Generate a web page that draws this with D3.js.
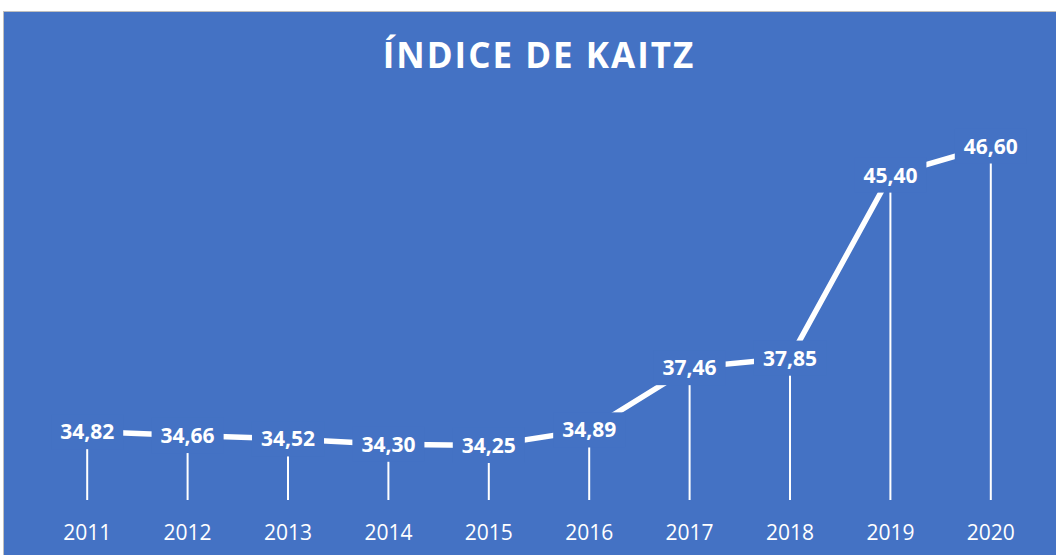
<!DOCTYPE html>
<html><head><meta charset="utf-8">
<script src="https://cdn.jsdelivr.net/npm/d3@7"></script>
<style>html,body{margin:0;padding:0;background:#fff;overflow:hidden}</style>
</head><body>
<svg id="c" width="1056" height="555"></svg>
<script>
const years = ["2011","2012","2013","2014","2015","2016","2017","2018","2019","2020"];
const values = [34.82,34.66,34.52,34.30,34.25,34.89,37.46,37.85,45.40,46.60];
const labels = ["34,82","34,66","34,52","34,30","34,25","34,89","37,46","37,85","45,40","46,60"];
const title = "ÍNDICE DE KAITZ";
const yDomain = [32, 48];

const svg = d3.select("#c");
const bg = "#4472C4";
svg.append("rect").attr("x",3.5).attr("y",11.5).attr("width",1060).attr("height",560)
  .attr("fill",bg).attr("stroke","#BFBFBF").attr("stroke-width",1);

svg.append("text").attr("x",539).attr("y",68).attr("text-anchor","middle")
  .attr("font-family","Open Sans").attr("font-weight","bold").attr("font-size",35)
  .attr("letter-spacing",2).attr("fill","#fff").text(title);

const x = d3.scaleBand().domain(years).range([37, 1041]).padding(0);
const cx = d => x(d) + x.bandwidth()/2;
const y = d3.scaleLinear().domain(yDomain).range([500, 112]);

const data = years.map((yr,i)=>({yr, v:values[i], l:labels[i]}));

// x axis labels
const ax = svg.append("g").attr("transform","translate(0,500)")
  .call(d3.axisBottom(x).tickSize(0).tickPadding(0));
ax.select(".domain").remove();
ax.selectAll("text").attr("font-family","Open Sans").attr("font-size",21)
  .attr("fill","#fff").attr("dy",null).attr("y",40);

// drop lines
svg.append("g").selectAll("line").data(data).join("line")
  .attr("x1",d=>cx(d.yr)).attr("x2",d=>cx(d.yr))
  .attr("y1",d=>y(d.v)).attr("y2",y(yDomain[0]))
  .attr("stroke","#fff").attr("stroke-width",2);

// series line
svg.append("path").datum(data)
  .attr("d", d3.line().x(d=>cx(d.yr)).y(d=>y(d.v)))
  .attr("fill","none").attr("stroke","#fff").attr("stroke-width",5.5);

// data labels
const lg = svg.append("g").selectAll("g").data(data).join("g")
  .attr("transform",d=>`translate(${cx(d.yr)},${y(d.v)})`);
const fs = 21;
lg.append("text").attr("text-anchor","middle").attr("dy","0.36em")
  .attr("font-family","Open Sans").attr("font-weight","bold").attr("font-size",fs)
  .attr("fill","#fff").text(d=>d.l)
  .each(function(){
    const w = this.getComputedTextLength();
    d3.select(this.parentNode).insert("rect","text")
      .attr("x",-w/2-9).attr("width",w+18)
      .attr("y",-fs*0.36-10).attr("height",fs*0.72+20)
      .attr("fill",bg);
  });
</script>
</body></html>
